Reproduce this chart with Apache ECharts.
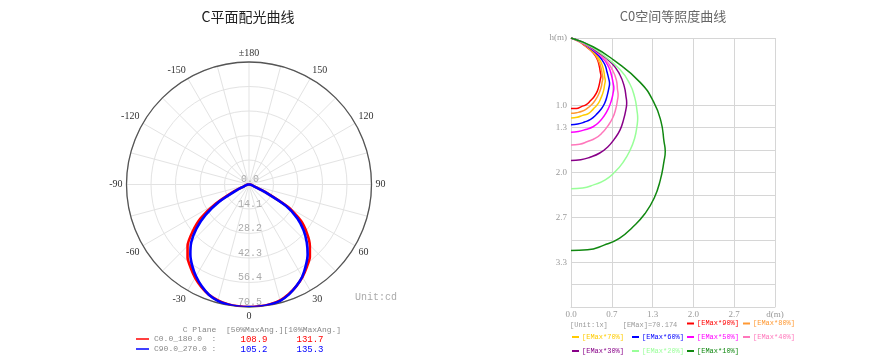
<!DOCTYPE html>
<html><head><meta charset="utf-8">
<script src="https://cdn.jsdelivr.net/npm/echarts@6/dist/echarts.min.js"></script>
<style>html,body{margin:0;padding:0;background:#fff}#c{width:894px;height:364px}</style>
</head><body><div id="c"></div>
<script>
// ---------- Polar (C-plane light distribution) data ----------
const polarAngles = [-90,-85,-80,-75,-70,-65,-60,-55,-50,-45,-40,-35,-30,-25,-20,-15,-10,-5,0,5,10,15,20,25,30,35,40,45,50,55,60,65,70,75,80,85,90];
const c0Values  = [0,0.5,1,2,3.5,10,22,34,42.5,50,55,58.5,62,65,67.5,69,70,70.4,70.5,70.4,70,69,67,64.5,61.5,58,54.5,49.5,43.5,36.5,26,11,3.5,2,1,0.5,0];
const c90Values = [0,0.5,1,2,3,8,20,30.5,39.5,47,52.5,57,61,64.5,67.5,69.3,70.1,70.5,70.6,70.5,70.1,69.3,67.3,64.5,61.3,57,52.5,47,41,34,24.5,10,3,2,1,0.5,0];
const planeNames = ['C0.0_180.0','C90.0_270.0'];
const maxAng50 = [108.9, 105.2];
const maxAng10 = [131.7, 135.3];
const radiusMax = 70.5;
const radiusStep = 14.1;

// ---------- Isolux (C0) data: [d (m), h (m)] ----------
const isoNames = ['[EMax*90%]','[EMax*80%]','[EMax*70%]','[EMax*60%]','[EMax*50%]','[EMax*40%]','[EMax*30%]','[EMax*20%]','[EMax*10%]'];
const iso90 = [[0,1.05],[0.09,1.05],[0.17,1.02],[0.25,0.99],[0.32,0.93],[0.38,0.87],[0.43,0.79],[0.46,0.70],[0.48,0.61],[0.49,0.56],[0.48,0.51],[0.46,0.41],[0.43,0.32],[0.36,0.22],[0.22,0.11],[0.11,0.04],[0,0]];
const iso80 = [[0,1.12],[0.09,1.11],[0.18,1.09],[0.26,1.05],[0.34,0.99],[0.40,0.92],[0.45,0.84],[0.49,0.74],[0.51,0.65],[0.52,0.595],[0.51,0.54],[0.49,0.44],[0.45,0.34],[0.38,0.23],[0.23,0.11],[0.12,0.05],[0,0]];
const iso70 = [[0,1.19],[0.10,1.18],[0.19,1.15],[0.29,1.12],[0.37,1.05],[0.44,0.98],[0.49,0.89],[0.53,0.79],[0.55,0.69],[0.56,0.635],[0.55,0.58],[0.53,0.47],[0.49,0.36],[0.41,0.25],[0.25,0.12],[0.13,0.05],[0,0]];
const iso60 = [[0,1.29],[0.11,1.28],[0.22,1.25],[0.32,1.21],[0.41,1.14],[0.49,1.06],[0.55,0.97],[0.59,0.86],[0.62,0.74],[0.63,0.68],[0.62,0.62],[0.59,0.51],[0.55,0.39],[0.46,0.27],[0.28,0.13],[0.14,0.05],[0,0]];
const iso50 = [[0,1.40],[0.12,1.39],[0.24,1.36],[0.36,1.32],[0.46,1.25],[0.54,1.16],[0.61,1.05],[0.66,0.93],[0.69,0.81],[0.70,0.745],[0.69,0.68],[0.66,0.55],[0.61,0.42],[0.51,0.29],[0.31,0.14],[0.16,0.06],[0,0]];
const iso40 = [[0,1.59],[0.14,1.58],[0.27,1.54],[0.40,1.49],[0.51,1.41],[0.60,1.31],[0.68,1.19],[0.73,1.06],[0.76,0.92],[0.77,0.845],[0.76,0.77],[0.74,0.62],[0.68,0.48],[0.57,0.33],[0.35,0.16],[0.18,0.07],[0,0]];
const iso30 = [[0,1.82],[0.16,1.81],[0.32,1.77],[0.47,1.71],[0.60,1.62],[0.71,1.50],[0.80,1.37],[0.86,1.21],[0.90,1.05],[0.91,0.965],[0.90,0.88],[0.87,0.72],[0.80,0.55],[0.67,0.38],[0.41,0.19],[0.21,0.07],[0,0]];
const iso20 = [[0,2.24],[0.19,2.23],[0.38,2.18],[0.56,2.11],[0.72,1.99],[0.85,1.85],[0.96,1.68],[1.04,1.49],[1.08,1.30],[1.09,1.195],[1.08,1.09],[1.04,0.88],[0.96,0.68],[0.80,0.47],[0.49,0.23],[0.25,0.09],[0,0]];
const iso10 = [[0,3.16],[0.27,3.15],[0.54,3.08],[0.79,2.98],[1.01,2.81],[1.21,2.61],[1.36,2.38],[1.46,2.11],[1.52,1.83],[1.54,1.685],[1.52,1.54],[1.47,1.24],[1.35,0.95],[1.13,0.66],[0.70,0.33],[0.36,0.13],[0,0]];
const isoCurves = [iso90, iso80, iso70, iso60, iso50, iso40, iso30, iso20, iso10];
const eMax = 70.174;
const xTickLabels = ['0.0','0.7','1.3','2.0','2.7','d(m)'];
const yTickLabels = ['h(m)','','','1.0','1.3','','2.0','','2.7','','3.3','',''];

// ---------- styles ----------
const isoColors = ['#ff0000','#ff9933','#ffcc00','#0000ff','#ff00ff','#ff77bb','#880088','#99ff99','#118811'];
const planeColors = ['#ff0000','#0000ff'];
const mono = '"Liberation Mono", monospace';
const serif = '"Liberation Serif", serif';

const chart = echarts.init(document.getElementById('c'), null, {renderer:'canvas'});

function angleLabel(v){
  v = Math.round(v);
  if (v % 30 !== 0 || v === 360) return '';
  if (v === 180) return '±180';
  return v > 180 ? String(v - 360) : String(v);
}

const polarSeries = [c0Values, c90Values].map((vals, i) => ({
  name: planeNames[i], type:'line', coordinateSystem:'polar', polarIndex:0,
  showSymbol:false, smooth:0.2, z: 5 + i,
  lineStyle:{color:planeColors[i], width:2.6},
  itemStyle:{color:planeColors[i]},
  data: polarAngles.map((a, k) => [vals[k], a < 0 ? a + 360 : a])
}));

const isoSeries = isoCurves.map((curve, i) => ({
  name: isoNames[i], type:'line', xAxisIndex:0, yAxisIndex:0,
  showSymbol:false, smooth:0.5,
  lineStyle:{color:isoColors[i], width:1.5},
  itemStyle:{color:isoColors[i]},
  data: curve
}));

const isoLegendPos = [[687,325],[743,325],[572,338.5],[632,338.5],[687,338.5],[743,338.5],[572,352.5],[632,352.5],[687,352.5]];
const isoLegends = isoNames.map((n, i) => ({
  data:[{name:n, textStyle:{color:isoColors[i]}}],
  left: isoLegendPos[i][0], top: isoLegendPos[i][1] - 5, padding:0,
  icon:'rect', itemWidth:7, itemHeight:2, itemGap:0,
  textStyle:{fontFamily:mono, fontSize:7, padding:[0,0,0,-2]},
  selectedMode:false
}));
const polarLegends = planeNames.map((n, i) => ({
  data:[n], left:136, top: 335 + i*10, padding:0,
  icon:'rect', itemWidth:13, itemHeight:1.5,
  formatter: name => name.padEnd(12, ' ') + ':',
  textStyle:{fontFamily:mono, fontSize:8, color:'#888'},
  selectedMode:false
}));

const yColors = yTickLabels.map((t, i) => (i === 1 || i === 2) ? 'rgba(0,0,0,0)' : '#d6d6d6');

const graphics = [
  {type:'text', x:248, y:17, style:{text:'C平面配光曲线', font:'14px "Noto Sans CJK SC"', fill:'#222', textAlign:'center', textVerticalAlign:'middle'}},
  {type:'text', x:673, y:16, style:{text:'C0空间等照度曲线', font:'13px "Noto Sans CJK SC"', fill:'#666', textAlign:'center', textVerticalAlign:'middle'}},
  {type:'text', x:355, y:297, style:{text:'Unit:cd', font:'10px ' + mono, fill:'#aaa', textVerticalAlign:'middle'}},
  {type:'text', x:182.7, y:330, style:{text:'C Plane  [50%MaxAng.][10%MaxAng.]', font:'8px ' + mono, fill:'#888', textVerticalAlign:'middle'}},
  {type:'text', x:570, y:325, style:{text:'[Unit:lx]', font:'7px ' + mono, fill:'#999', textVerticalAlign:'middle'}},
  {type:'text', x:622.7, y:325, style:{text:'[EMax]=' + eMax.toFixed(3), font:'7px ' + mono, fill:'#999', textVerticalAlign:'middle'}}
];
planeNames.forEach((n, i) => {
  graphics.push({type:'text', x:254, y:340 + i*10, style:{text:maxAng50[i].toFixed(1), font:'9px ' + mono, fill:planeColors[i], textAlign:'center', textVerticalAlign:'middle'}});
  graphics.push({type:'text', x:310, y:340 + i*10, style:{text:maxAng10[i].toFixed(1), font:'9px ' + mono, fill:planeColors[i], textAlign:'center', textVerticalAlign:'middle'}});
});

chart.setOption({
  animation:false,
  backgroundColor:'#fff',
  polar:{center:[249,184.5], radius:122.5},
  angleAxis:{
    type:'value', min:0, max:360, interval:15, startAngle:270, clockwise:false,
    axisLine:{show:true, lineStyle:{color:'#555', width:1.3}},
    axisTick:{show:false},
    axisLabel:{show:true, margin:4, formatter:angleLabel, fontFamily:serif, fontSize:10, color:'#333'},
    splitLine:{show:true, lineStyle:{color:'#e3e3e3', width:1}}
  },
  radiusAxis:{
    type:'value', min:0, max:radiusMax, interval:radiusStep,
    axisLine:{show:false}, axisTick:{show:false},
    axisLabel:{show:true, margin:1, align:'center', verticalAlign:'bottom', formatter:v => v.toFixed(1), fontFamily:mono, fontSize:10, color:'#aaa'},
    splitLine:{show:true, lineStyle:{color:'#e3e3e3', width:1}}
  },
  grid:{left:571, top:38, right:119, bottom:57, containLabel:false},
  xAxis:{
    type:'value', min:0, max:10/3, interval:2/3,
    axisLine:{show:true, onZero:false, lineStyle:{color:'#d6d6d6'}},
    axisTick:{show:false},
    axisLabel:{margin:3, fontFamily:serif, fontSize:9, color:'#999', formatter:v => xTickLabels[Math.round(v*1.5)] || ''},
    splitLine:{show:true, lineStyle:{color:'#d6d6d6', width:1}}
  },
  yAxis:{
    type:'value', min:0, max:4, interval:1/3, inverse:true,
    axisLine:{show:true, onZero:false, lineStyle:{color:'#d6d6d6'}},
    axisTick:{show:false},
    axisLabel:{margin:4, fontFamily:serif, fontSize:9, color:'#999', formatter:v => yTickLabels[Math.round(v*3)] || ''},
    splitLine:{show:true, lineStyle:{color:yColors, width:1}}
  },
  legend: polarLegends.concat(isoLegends),
  graphic: graphics,
  series: polarSeries.concat(isoSeries)
});
</script></body></html>
